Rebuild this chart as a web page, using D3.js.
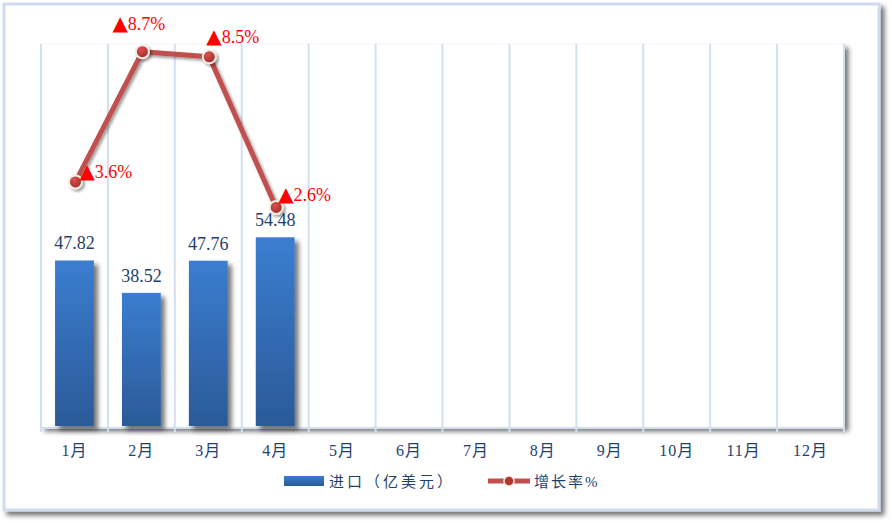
<!DOCTYPE html>
<html><head><meta charset="utf-8">
<script src="https://cdn.jsdelivr.net/npm/d3@7"></script>
<style>html,body{margin:0;padding:0;background:#fff;overflow:hidden}</style>
</head><body>
<svg id="chart" width="892" height="523"></svg>
<script>
const months = ["1月","2月","3月","4月","5月","6月","7月","8月","9月","10月","11月","12月"];
const importValues = [47.82, 38.52, 47.76, 54.48];
const growthRates = [3.6, 8.7, 8.5, 2.6];
const growthMarks = ["▲","▲","▲","▲"];
const growthLabels = ["3.6%","8.7%","8.5%","2.6%"];
const seriesNames = ["进口（亿美元）","增长率%"];
// label placement (styling only)
const growthLabelOffsets = [[4,-4],[-30,-22],[-3,-14],[2,-6]];

(function(){
const svg = d3.select("#chart");
const defs = svg.append("defs");
const sh = defs.append("filter").attr("id","shadow").attr("x","-20%").attr("y","-20%").attr("width","150%").attr("height","150%");
sh.append("feGaussianBlur").attr("in","SourceAlpha").attr("stdDeviation",2.5);
sh.append("feOffset").attr("dx",4).attr("dy",4).attr("result","ob");
sh.append("feComponentTransfer").append("feFuncA").attr("type","linear").attr("slope",0.55);
const m1 = sh.append("feMerge"); m1.append("feMergeNode"); m1.append("feMergeNode").attr("in","SourceGraphic");

const sh2 = defs.append("filter").attr("id","shadow2").attr("x","-20%").attr("y","-20%").attr("width","150%").attr("height","150%");
sh2.append("feGaussianBlur").attr("in","SourceAlpha").attr("stdDeviation",1.5);
sh2.append("feOffset").attr("dx",2).attr("dy",2).attr("result","ob");
sh2.append("feComponentTransfer").append("feFuncA").attr("type","linear").attr("slope",0.4);
const m2 = sh2.append("feMerge"); m2.append("feMergeNode"); m2.append("feMergeNode").attr("in","SourceGraphic");

const grad = defs.append("linearGradient").attr("id","barGrad").attr("x1",0).attr("y1",0).attr("x2",0).attr("y2",1);
grad.append("stop").attr("offset","0%").attr("stop-color","#3b7dd0");
grad.append("stop").attr("offset","100%").attr("stop-color","#2b5a98");
const lgrad = defs.append("linearGradient").attr("id","legGrad").attr("x1",0).attr("y1",0).attr("x2",0).attr("y2",1);
lgrad.append("stop").attr("offset","0%").attr("stop-color","#3b7dd0");
lgrad.append("stop").attr("offset","100%").attr("stop-color","#2b5a98");
const mg = defs.append("radialGradient").attr("id","mkGrad").attr("cx","40%").attr("cy","35%").attr("r","65%");
mg.append("stop").attr("offset","0%").attr("stop-color","#d9534f");
mg.append("stop").attr("offset","100%").attr("stop-color","#a52a2a");

// outer frame
svg.append("rect").attr("x",4).attr("y",4).attr("width",875).attr("height",506)
  .attr("fill","#fff").attr("stroke","#cfdcef").attr("stroke-width",3).attr("filter","url(#shadow)");

const pLeft = 41, pRight = 844, pTop = 44, pBottom = 427;
const x = d3.scaleBand().domain(months).range([pLeft,pRight]).paddingInner(0).paddingOuter(0);
const yBar = d3.scaleLinear().domain([0,110]).range([pBottom, pTop]);
const yLine = d3.scaleLinear().domain([-6,9]).range([pBottom, pTop]);

// plot area
svg.append("rect").attr("x",pLeft).attr("y",pTop).attr("width",pRight-pLeft).attr("height",pBottom-pTop)
  .attr("fill","#fff").attr("stroke","#f4f6fa").attr("stroke-width",1).attr("filter","url(#shadow)");

// vertical gridlines
const bounds = months.map(m => x(m)).concat([pRight]);
svg.append("g").selectAll("line").data(bounds).join("line")
  .attr("x1",d=>d).attr("x2",d=>d).attr("y1",pTop).attr("y2",pBottom+5)
  .attr("stroke","#d3dff0").attr("stroke-width",2);
svg.append("line").attr("x1",pLeft).attr("x2",pRight).attr("y1",pBottom+1).attr("y2",pBottom+1)
  .attr("stroke","#d3dff0").attr("stroke-width",2);

// bars
const bw = x.bandwidth()*0.58;
svg.append("g").selectAll("rect").data(importValues).join("rect")
  .attr("x",(d,i)=>x(months[i])+(x.bandwidth()-bw)/2)
  .attr("y",d=>yBar(d)).attr("width",bw).attr("height",d=>pBottom-1-yBar(d))
  .attr("fill","url(#barGrad)").attr("filter","url(#shadow)");

svg.append("g").selectAll("text").data(importValues).join("text")
  .attr("x",(d,i)=>x(months[i])+x.bandwidth()/2)
  .attr("y",d=>yBar(d)-11)
  .attr("text-anchor","middle").attr("fill","#1f3f6f")
  .attr("font-family","'Liberation Serif','Times New Roman',serif").attr("font-size",18)
  .text(d=>d.toFixed(2));

// line
const cx = (d,i)=>x(months[i])+x.bandwidth()/2+1;
const line = d3.line().x(cx).y(d=>yLine(d));
svg.append("path").datum(growthRates).attr("d",line).attr("fill","none")
  .attr("stroke","#c0504d").attr("stroke-width",5).attr("stroke-linejoin","round").attr("filter","url(#shadow2)");
svg.append("g").selectAll("circle").data(growthRates).join("circle")
  .attr("cx",cx).attr("cy",d=>yLine(d)).attr("r",6.5)
  .attr("fill","url(#mkGrad)").attr("stroke","#f3ece0").attr("stroke-width",2).attr("filter","url(#shadow2)");

const gl = svg.append("g").selectAll("text").data(growthRates).join("text")
  .attr("x",(d,i)=>cx(d,i)+growthLabelOffsets[i][0])
  .attr("y",(d,i)=>yLine(d)+growthLabelOffsets[i][1])
  .attr("text-anchor","start")
  .attr("fill","#ff0000").attr("font-family","'Liberation Serif','Times New Roman',serif").attr("font-size",18);
gl.append("tspan").attr("font-family","'DejaVu Sans',sans-serif").attr("font-size",20).text((d,i)=>growthMarks[i]);
gl.append("tspan").attr("dx",0).text((d,i)=>growthLabels[i]);

// x axis labels
svg.append("g").selectAll("text").data(months).join("text")
  .attr("x",d=>x(d)+x.bandwidth()/2).attr("y",456)
  .attr("text-anchor","middle").attr("fill","#1f3f6f")
  .attr("font-family","'Liberation Serif','Noto Sans CJK SC',serif").attr("font-size",16).attr("letter-spacing",1)
  .text(d=>d);

// legend
const lg = svg.append("g");
lg.append("rect").attr("x",284).attr("y",476).attr("width",40).attr("height",10).attr("fill","url(#legGrad)");
lg.append("text").attr("x",329).attr("y",487).attr("fill","#1f3f6f")
  .attr("font-family","'Liberation Serif','Noto Sans CJK SC',serif").attr("font-size",15).attr("letter-spacing",3)
  .text(seriesNames[0]);
lg.append("line").attr("x1",488).attr("x2",530).attr("y1",481).attr("y2",481).attr("stroke","#c0504d").attr("stroke-width",5);
lg.append("circle").attr("cx",509).attr("cy",481).attr("r",5).attr("fill","#b8322f").attr("stroke","#f3ece0").attr("stroke-width",1.5);
lg.append("text").attr("x",534).attr("y",487).attr("fill","#1f3f6f")
  .attr("font-family","'Liberation Serif','Noto Sans CJK SC',serif").attr("font-size",15).attr("letter-spacing",2)
  .text(seriesNames[1]);
})();
</script>
</body></html>
